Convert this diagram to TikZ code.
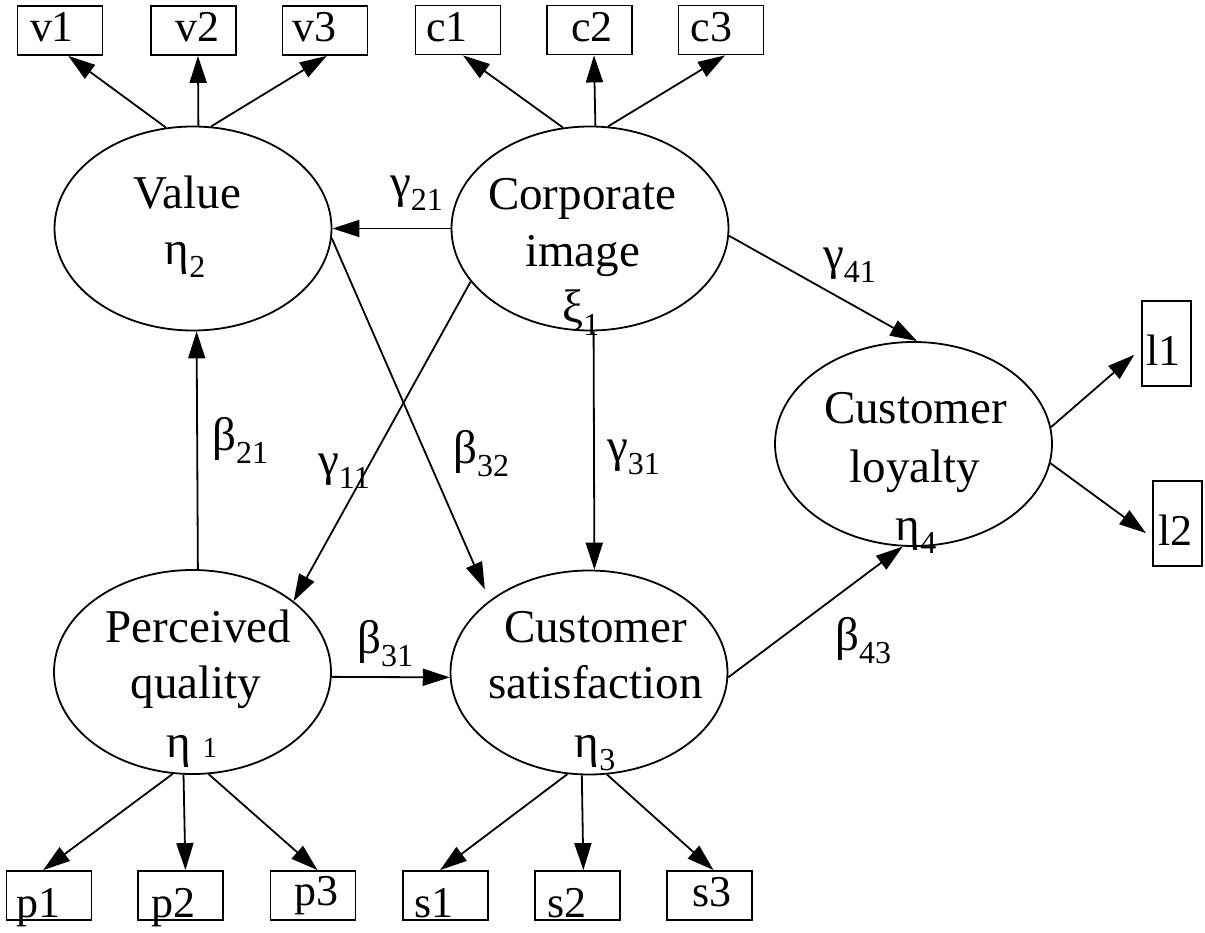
\documentclass[tikz,border=0pt]{standalone}
\usepackage{fontspec}
\setmainfont{Liberation Serif}
\usetikzlibrary{shapes.geometric,arrows.meta}

% lowered, smaller index digits
\newcommand\lsub[1]{\raisebox{-13pt}{\fontsize{32}{32}\selectfont #1}}

\begin{document}
\begin{tikzpicture}[x=1pt,y=-1pt,
  lat/.style={ellipse,draw,line width=1.8pt,inner sep=0pt,
              minimum width=277pt,minimum height=204pt},
  obs/.style={rectangle,draw,line width=1.8pt,inner sep=0pt,
              minimum width=85pt,minimum height=49pt},
  obsv/.style={obs,minimum width=49pt,minimum height=85pt},
  txt/.style={inner sep=0pt,anchor=base,font=\fontsize{47}{47}\selectfont},
  itxt/.style={inner sep=0pt,anchor=base,font=\fontsize{44}{44}\selectfont},
  coef/.style={inner sep=0pt,anchor=base west,font=\fontsize{47}{47}\selectfont},
  arr/.style={line width=1.8pt,-{Triangle[length=27pt,width=17pt]}}]

\useasboundingbox (0,0) rectangle (1205,933);

% latent variables
\node[lat] (val)  at (193,228.5) {};
\node[lat] (corp) at (590,228.5) {};
\node[lat] (perc) at (192.5,672) {};
\node[lat] (sat)  at (589,672.5) {};
\node[lat] (loy)  at (913.5,444) {};

\node[txt] (valA) at (187.5,209) {Value};
\node[txt] (valB) at (185,265) {η\lsub{2}};
\node[txt] (corpA) at (582,210) {Corporate};
\node[txt] (corpB) at (582.5,267) {image};
\node[txt] (corpC) at (581,323) {ξ\lsub{1}};
\node[txt] (percA) at (198.5,642) {Perceived};
\node[txt] (percB) at (196,698) {quality};
\node[txt] (percC) at (192,757) {η\hspace{11pt}{\fontsize{29}{29}\selectfont 1}};
\node[txt] (satA) at (595.5,642) {Customer};
\node[txt] (satB) at (595.5,698) {satisfaction};
\node[txt] (satC) at (595,757) {η\lsub{3}};
\node[txt] (loyA) at (915.5,423) {Customer};
\node[txt] (loyB) at (915,482) {loyalty};
\node[txt] (loyC) at (916,540) {η\lsub{4}};

% indicators
\node[obs] (v1) at (60,30.5) {};
\node[obs] (v2) at (193.5,30.5) {};
\node[obs] (v3) at (325,30.5) {};
\node[obs] (c1) at (458,30) {};
\node[obs] (c2) at (589.5,30) {};
\node[obs] (c3) at (721,30) {};
\node[obs] (p1) at (49,895.5) {};
\node[obs] (p2) at (180.5,895.5) {};
\node[obs] (p3) at (313,895.5) {};
\node[obs] (s1) at (445.5,895.5) {};
\node[obs] (s2) at (577.5,895.5) {};
\node[obs] (s3) at (709.5,895.5) {};
\node[obsv] (l1) at (1166.5,343.5) {};
\node[obsv] (l2) at (1177.5,523.5) {};

\node[itxt] (v1t) at (52,42) {v1};
\node[itxt] (v2t) at (197.5,42) {v2};
\node[itxt] (v3t) at (314,42) {v3};
\node[itxt] (c1t) at (447,42) {c1};
\node[itxt] (c2t) at (592,42) {c2};
\node[itxt] (c3t) at (711.5,42) {c3};
\node[itxt] (p1t) at (38.5,917) {p1};
\node[itxt] (p2t) at (173.5,917) {p2};
\node[itxt] (p3t) at (316.5,905) {p3};
\node[itxt] (s1t) at (434,917) {s1};
\node[itxt] (s2t) at (567,917) {s2};
\node[itxt] (s3t) at (712,906) {s3};
\node[itxt] (l1t) at (1163.5,365) {l1};
\node[itxt] (l2t) at (1175.5,545) {l2};

% measurement paths
\draw[arr] (val.105.6) -- (v1.288);
\draw[arr] (val.87.2) -- (v2.280.4);
\draw[arr] (val.80.5) -- (v3.274.7);
\draw[arr] (corp.105.4) -- (c1.281.8);
\draw[arr] (corp.87.7) -- (c2.280.6);
\draw[arr] (corp.80.5) -- (c3.279.5);
\draw[arr] (perc.259.3) -- (p1.103.8);
\draw[arr] (perc.265.8) -- (p2.79.6);
\draw[arr] (perc.279.6) -- (p3.80.7);
\draw[arr] (sat.258.4) -- (s1.102.7);
\draw[arr] (sat.266.6) -- (s2.77.3);
\draw[arr] (sat.280) -- (s3.81.9);
\draw[arr,shorten >=9pt] (loy.7.1) -- (l1.192.7);
\draw[arr,shorten >=7.5pt] (loy.352.6) -- (l2.209.7);

% structural paths
\draw[arr] (corp.west) -- (val.east);
\draw[arr] (perc.87) -- (val.272.8);
\draw[arr] (corp.204.5) -- (perc.35);
\draw[arr,shorten >=12pt] (val.356.5) -- (sat.144.6);
\draw[arr] (corp.272.2) -- (sat.87);
\draw[arr] (corp.357.3) -- (loy.88);
\draw[arr] (perc.358) -- (sat.182.3);
\draw[arr] (sat.358.1) -- (loy.264);

% path coefficients
\node[coef] (g21) at (390,198) {γ\lsub{21}};
\node[coef] (b21) at (212,450) {β\lsub{21}};
\node[coef] (g11) at (318,475) {γ\lsub{11}};
\node[coef] (b32) at (453,463) {β\lsub{32}};
\node[coef] (g31) at (607,461) {γ\lsub{31}};
\node[coef] (g41) at (823,270) {γ\lsub{41}};
\node[coef] (b31) at (357,653) {β\lsub{31}};
\node[coef] (b43) at (835,650) {β\lsub{43}};
\end{tikzpicture}
\end{document}
